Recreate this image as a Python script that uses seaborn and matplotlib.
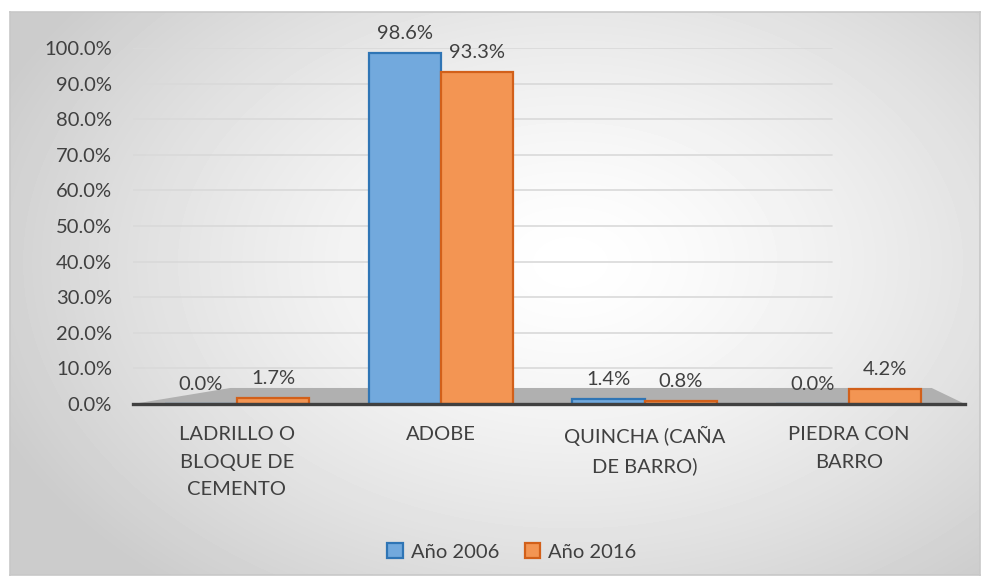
import numpy as np
import pandas as pd
import matplotlib.pyplot as plt
import seaborn as sns
from matplotlib.patches import Patch, Polygon
from matplotlib.transforms import blended_transform_factory

# datos
categorias = ["LADRILLO O\nBLOQUE DE\nCEMENTO", "ADOBE", "QUINCHA (CAÑA\nDE BARRO)", "PIEDRA CON\nBARRO"]
anio_2006 = [0.0, 98.6, 1.4, 0.0]
anio_2016 = [1.7, 93.3, 0.8, 4.2]
series = ["Año 2006", "Año 2016"]
y_ticks = list(range(0, 101, 10))

df = pd.DataFrame({
    "categoria": categorias * 2,
    "valor": anio_2006 + anio_2016,
    "serie": [series[0]] * len(categorias) + [series[1]] * len(categorias),
})

relleno = {"Año 2006": "#72A9DD", "Año 2016": "#F39553"}
borde = {"Año 2006": "#2F75B5", "Año 2016": "#D2601A"}
texto = "#404040"
fs = 14.5

sns.set_theme(style="white")
plt.rcParams["font.family"] = ["Lato", "DejaVu Sans"]

fig = plt.figure(figsize=(9.92, 5.84), dpi=100)
fig.patch.set_facecolor("white")

# --- fondo degradado del grafico
bg = fig.add_axes([10 / 992, 9 / 584, 970 / 992, 563 / 584], zorder=-10)
yy, xx = np.mgrid[0:563, 0:970]
r = np.sqrt(((xx - 560) / 620) ** 2 + ((yy - 250) / 420) ** 2)
grad = 1 - 0.2 * np.clip(r, 0, 1) ** 1.4
bg.imshow(grad, cmap="gray", vmin=0, vmax=1, aspect="auto", interpolation="bilinear")
bg.set_xticks([])
bg.set_yticks([])
for s in bg.spines.values():
    s.set_color("#C8C8C8")
    s.set_linewidth(1.2)

# --- barras
ax = fig.add_axes([133 / 992, 180 / 584, 832 / 992, 356 / 584])
ax.set_facecolor("none")

trans = blended_transform_factory(ax.transAxes, ax.transData)
piso = Polygon([(0, 0), (1, 0), (0.96, 4.5), (0.117, 4.5)], closed=True,
               transform=trans, facecolor="#B0B0B0", edgecolor="none", zorder=0)
ax.add_patch(piso)

for t in y_ticks[1:]:
    ax.axhline(t, xmin=0, xmax=0.84, color="#D9D9D9", lw=1.2, zorder=0)

sns.barplot(data=df, x="categoria", y="valor", hue="serie", palette=relleno,
            saturation=1, width=0.71, ax=ax, legend=False, zorder=2, linewidth=1.6)

for cont, serie in zip(ax.containers, series):
    for p in cont:
        p.set_edgecolor(borde[serie])
    ax.bar_label(cont, labels=[f"{v:.1f}%" for v in cont.datavalues],
                 padding=8, color=texto, fontsize=fs)

ax.set_ylim(0, 100)
ax.set_xlim(-0.51, 3.57)
ax.set_yticks(y_ticks)
ax.set_yticklabels([f"{t:.1f}%" for t in y_ticks], color=texto, fontsize=fs)
ax.tick_params(axis="y", length=0, pad=15)
ax.tick_params(axis="x", length=0, pad=16, labelsize=fs, labelcolor=texto)
ax.set_xlabel("")
ax.set_ylabel("")
for s in ["top", "right", "left"]:
    ax.spines[s].set_visible(False)
ax.spines["bottom"].set_color("#404040")
ax.spines["bottom"].set_linewidth(2.4)
for lbl in ax.get_xticklabels():
    lbl.set_linespacing(1.75)
    lbl.set_verticalalignment("top")

handles = [Patch(facecolor=relleno[s], edgecolor=borde[s], linewidth=1.6, label=s) for s in series]
fig.legend(handles=handles, loc="center", bbox_to_anchor=(512 / 992, 1 - 552 / 584), ncol=2,
           frameon=False, fontsize=fs, handlelength=0.75, handleheight=0.75,
           handletextpad=0.4, columnspacing=1.3, labelcolor=texto)

fig.savefig("out.png", dpi=100)
